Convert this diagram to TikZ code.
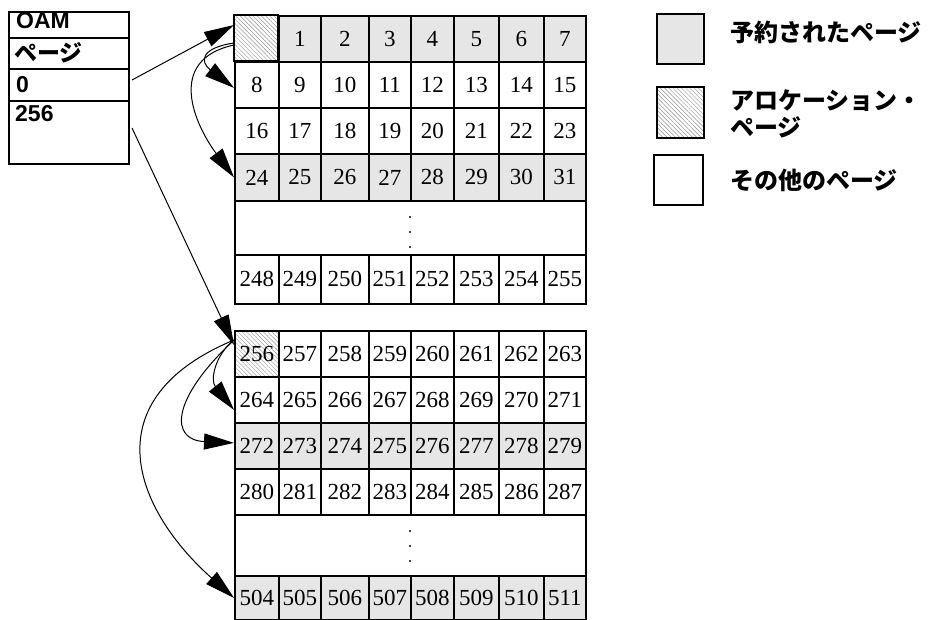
\documentclass[tikz,border=0pt]{standalone}
\usepackage{fontspec}
\setmainfont{Liberation Serif}
\newfontfamily\jpf{Noto Sans CJK JP}
\newfontfamily\arf{Liberation Sans}
\usetikzlibrary{arrows.meta,patterns.meta,calc}
\definecolor{pg}{HTML}{E6E6E6}
\tikzset{
  cell/.style={draw, line width=1.8pt, inner sep=0pt, anchor=north west, font=\fontsize{23}{24}\selectfont},
  hatch/.style={preaction={fill=white}, pattern={Lines[angle=-45,distance=3pt,line width=0.45pt]}, pattern color=gray!85},
  conn/.style={line width=1pt, -{Triangle[length=30pt,width=16pt]}},
  oamrow/.style={draw, line width=2pt, inner sep=0pt, anchor=north west, minimum width=120pt},
  oamtxt/.style={font=\arf\bfseries\fontsize{23}{24}\selectfont, inner sep=0pt, anchor=base west},
  oamjp/.style={font=\jpf\bfseries\fontsize{23}{24}\selectfont, inner sep=0pt, anchor=west},
  legbox/.style={draw, line width=2pt, inner sep=0pt, anchor=north west, minimum width=47pt, minimum height=50pt},
  legtxt/.style={font=\jpf\bfseries\fontsize{24}{27}\selectfont, inner sep=0pt, anchor=west, align=left}
}
\begin{document}
\begin{tikzpicture}[x=1pt,y=-1pt]
\useasboundingbox (0,0) rectangle (944,620);
\def\cols{0/234/278,1/278/320,2/320/368,3/368/410,4/410/453,5/453/498,6/498/543,7/543/585}
% grids
\foreach \yt/\yb/\base/\sty in {15/61/0/pg,61/107/8/white,107/153/16/white,153/200/24/pg,254/303/248/white,330/376/256/white,376/422/264/white,422/468/272/pg,468/514/280/white,575/619/504/pg}{
  \foreach \c/\xl/\xr in \cols {
    \pgfmathtruncatemacro\n{\base+\c}
    \pgfmathsetmacro\w{\xr-\xl}
    \pgfmathsetmacro\h{\yb-\yt}
    \ifnum\n=0\relax
      \node[cell, hatch, minimum width=\w pt, minimum height=\h pt] (t\n) at (\xl,\yt) {};
    \else\ifnum\n=256\relax
      \node[cell, hatch, minimum width=\w pt, minimum height=\h pt] (t\n) at (\xl,\yt) {\n};
    \else
      \node[cell, fill=\sty, minimum width=\w pt, minimum height=\h pt] (t\n) at (\xl,\yt) {\n};
    \fi\fi
  }
}
% dotted rows
\node[cell, minimum width=351pt, minimum height=54pt] (dotsA) at (234,200) {};
\node[cell, minimum width=351pt, minimum height=61pt] (dotsB) at (234,514) {};
\foreach \y in {217,232,247} \fill (410,\y) circle (1.1pt);
\foreach \y in {531,546,561} \fill (410,\y) circle (1.1pt);
% OAM table
\node[oamrow, minimum height=26pt] (oam1) at (8,11) {};
\node[oamrow, minimum height=31pt] (oam2) at (8,37) {};
\node[oamrow, minimum height=32pt] (oam3) at (8,68) {};
\node[oamrow, minimum height=63pt] (oam4) at (8,100) {};
\node[oamtxt] (oamL1) at (16,29) {OAM};
\node[oamjp] (oamL2) at (14,53) {ページ};
\node[oamtxt] (oamL3) at (16,93) {0};
\node[oamtxt] (oamL4) at (15,122) {256};
% legend
\node[legbox, fill=pg] (lg1) at (656,13) {};
\node[legbox, hatch, minimum height=51pt] (lg2) at (656,86) {};
\node[legbox, minimum width=49pt] (lg3) at (653,154) {};
\node[legtxt] (lt1) at (730,32) {予約されたページ};
\node[legtxt] (lt2) at (730,113.5) {アロケーション・\\ページ};
\node[legtxt] (lt3) at (730,180) {その他のページ};
% connectors
\draw[conn] ([xshift=2pt,yshift=5pt]oam3.east) -- ([yshift=-10pt]t0.north west);
\draw[conn] ([xshift=2pt,yshift=4.5pt]oam4.east) -- ([yshift=-15pt]t256.north west);
\draw[conn] ([yshift=-28pt]t0.north west) .. controls (200,48) and (200,62) .. ([yshift=-3pt]t8.west);
\draw[conn] ([yshift=-30pt]t0.north west) .. controls (165,60) and (195,125) .. (t24.west);
\draw[conn] ([yshift=-10pt]t256.north west) .. controls (215,355) and (210,380) .. ([yshift=-10pt]t264.west);
\draw[conn] ([yshift=-10pt]t256.north west) .. controls (170,400) and (170,440) .. ([yshift=3pt]t272.west);
\draw[conn] ([yshift=-10pt]t256.north west) .. controls (90,400) and (135,510) .. (t504.west);
\end{tikzpicture}
\end{document}
